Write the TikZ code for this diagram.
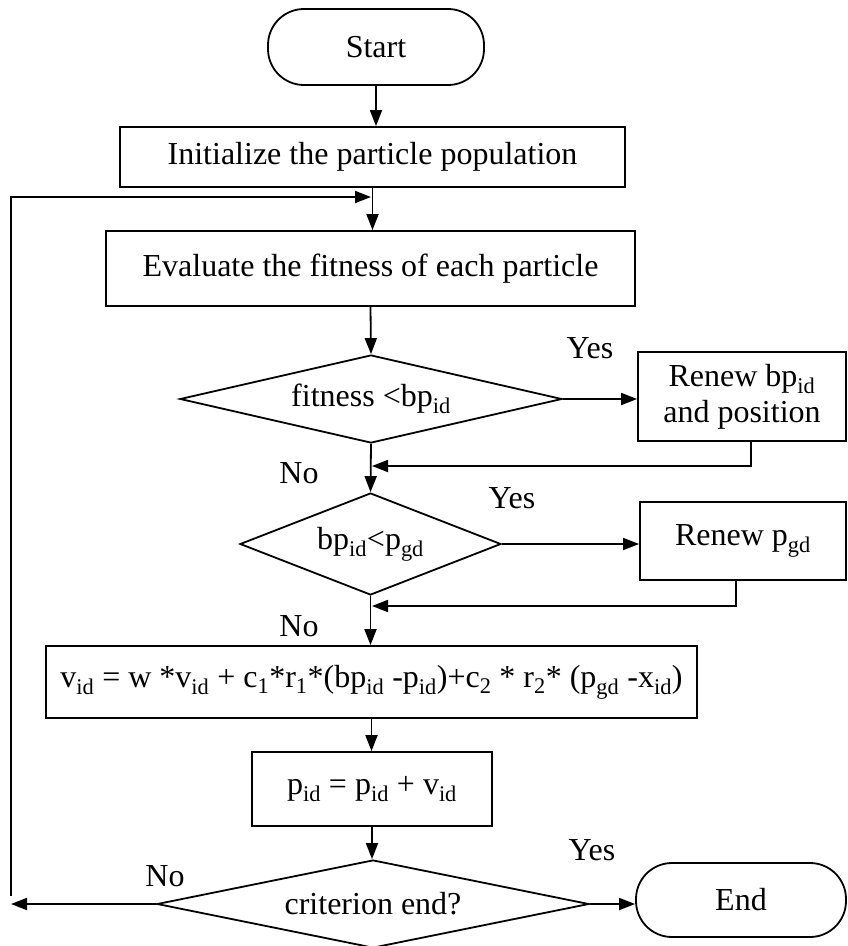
\documentclass[tikz,border=0pt]{standalone}
\usepackage{fontspec}
\setmainfont{Liberation Serif}
\usetikzlibrary{shapes.geometric,arrows.meta}
\newcommand{\sbs}[1]{\textsubscript{#1}}
\begin{document}
\begin{tikzpicture}[
    x=1pt, y=-1pt,
    every node/.style={font=\fontsize{32}{38}\selectfont},
    term/.style={rectangle, rounded corners=36pt, draw, line width=1.8pt, inner sep=0pt},
    proc/.style={rectangle, draw, line width=1.8pt, inner sep=0pt, align=center},
    dec/.style={diamond, draw, line width=1.8pt, inner sep=0pt},
    lab/.style={inner sep=0pt},
    arr/.style={line width=1.8pt, -{Triangle[length=16pt,width=12pt]}}]
  \useasboundingbox (0,0) rectangle (847,946);
  % boxes
  \node[term, minimum width=216pt, minimum height=76pt] (start) at (376,47) {Start};
  \node[proc, minimum width=505pt, minimum height=60pt] (init) at (372.5,157) {Initialize the particle population};
  \node[proc, minimum width=529pt, minimum height=75pt] (eval) at (370.5,268.5) {Evaluate the fitness of each particle};
  \node[dec, aspect=4.34, minimum width=382pt, minimum height=88pt] (dec1) at (371,399) {fitness <bp\sbs{id}};
  \node[proc, minimum width=208pt, minimum height=89pt] (renew1) at (742,396.5) {Renew bp\sbs{id}\\[-2pt]and position};
  \node[dec, aspect=2.56, minimum width=261pt, minimum height=102pt] (dec2) at (370.5,544) {bp\sbs{id}<p\sbs{gd}};
  \node[proc, minimum width=206pt, minimum height=78pt] (renew2) at (743,541) {Renew p\sbs{gd}};
  \node[proc, minimum width=651pt, minimum height=72pt] (update) at (371.5,682)
    {v\sbs{id} = w *v\sbs{id} + c\sbs{1}*r\sbs{1}*(bp\sbs{id} -p\sbs{id})+c\sbs{2} * r\sbs{2}* (p\sbs{gd} -x\sbs{id})};
  \node[proc, minimum width=240pt, minimum height=74pt] (move) at (372,789) {p\sbs{id} = p\sbs{id} + v\sbs{id}};
  \node[dec, aspect=4.9, minimum width=432pt, minimum height=88pt] (dec3) at (373,904) {criterion end?};
  \node[term, minimum width=210pt, minimum height=74pt] (stop) at (741,900) {End};
  % loose ends
  \coordinate (join) at (371,197);
  \coordinate (loopbot) at (11,896);
  \coordinate (noend) at (11,904);
  \coordinate (back1) at (372,466);
  \coordinate (back2) at (372,606);
  % flow
  \draw[arr] (start.south) -- (start.south |- init.north);
  \draw[arr] (init.south) -- (init.south |- eval.north);
  \draw[arr] (loopbot) |- (join);
  \draw[arr] (eval.south) -- (dec1.north);
  \draw[arr] (dec1.east) -- (renew1.west |- dec1.east);
  \draw[arr] ([xshift=9pt]renew1.south) |- (back1);
  \draw[arr] (dec1.south) -- (dec2.north);
  \draw[arr] (dec2.east) -- (renew2.west |- dec2.east);
  \draw[arr] ([xshift=-7pt]renew2.south) |- (back2);
  \draw[arr] (dec2.south) -- (dec2.south |- update.north);
  \draw[arr] (update.south) -- (update.south |- move.north);
  \draw[arr] (move.south) -- (move.south |- dec3.north);
  \draw[arr] (dec3.east) -- (stop.west |- dec3.east);
  \draw[arr] (dec3.west) -- (noend);
  % answers
  \node[lab] (yes1) at (590,348) {Yes};
  \node[lab] (no1) at (299,473) {No};
  \node[lab] (yes2) at (512,498) {Yes};
  \node[lab] (no2) at (299,626) {No};
  \node[lab] (yes3) at (592,850) {Yes};
  \node[lab] (no3) at (165,876) {No};
\end{tikzpicture}
\end{document}
